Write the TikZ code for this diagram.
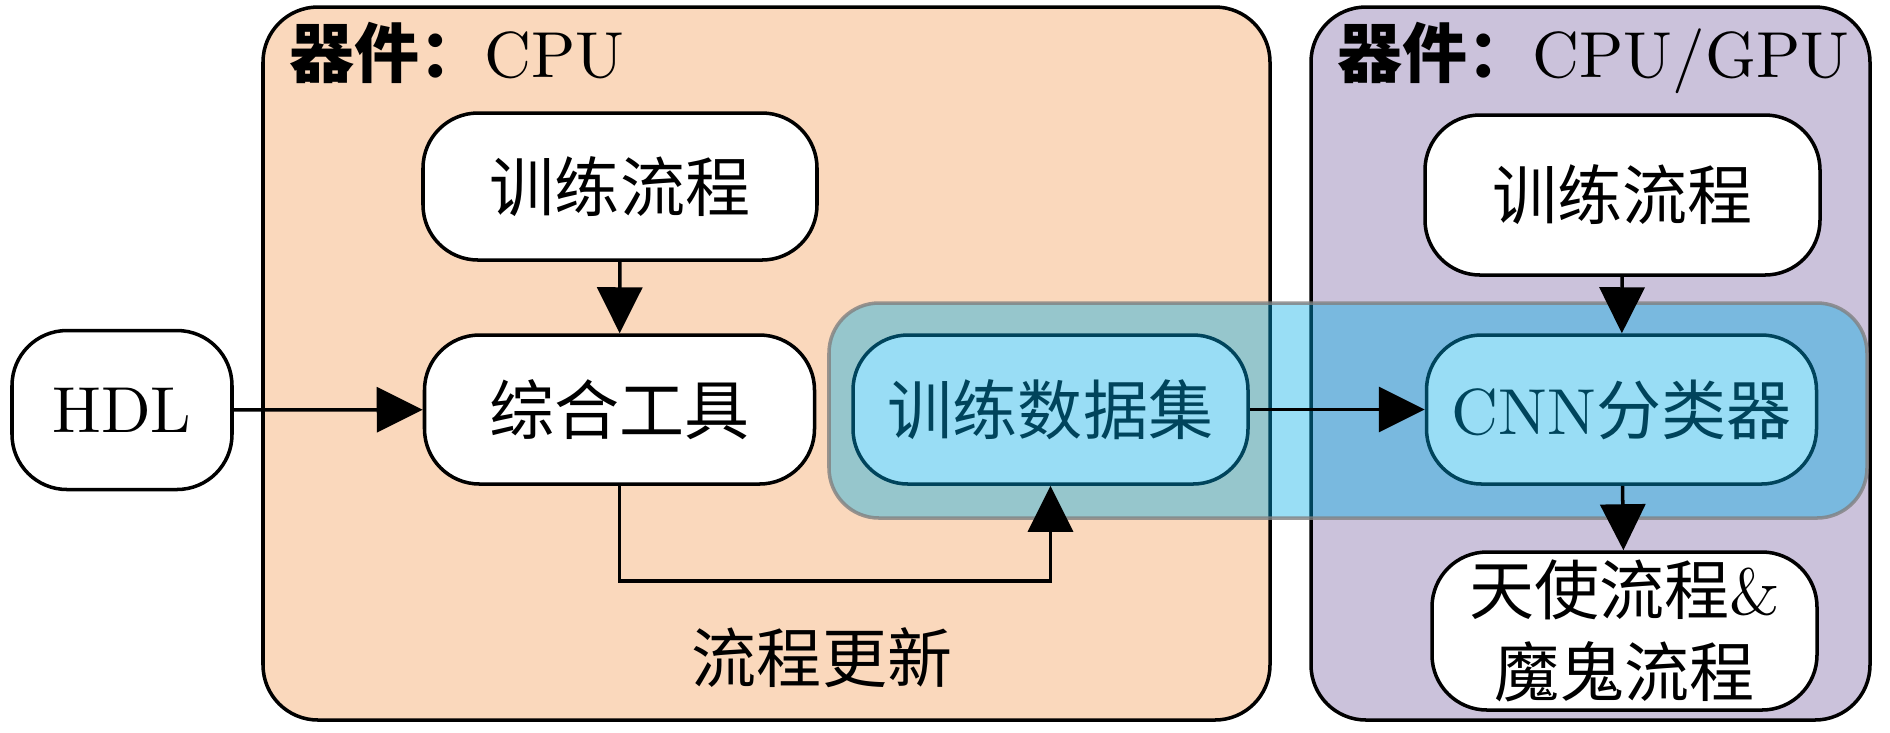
\documentclass[tikz,border=0pt]{standalone}
\usepackage{fontspec}
\setmainfont{lmroman10-regular.otf}
\newfontfamily\cjk{Noto Sans CJK SC}
\usepackage{tikz}
\usetikzlibrary{arrows.meta}

\definecolor{cpufill}{RGB}{250,216,188}
\definecolor{gpufill}{RGB}{203,194,219}
\definecolor{setfill}{RGB}{0,172,230}

\tikzset{
	devicebox/.style={draw, line width=1pt, rounded corners=0.55cm},
	stage/.style={draw, line width=1pt, fill=white, rounded corners=0.55cm,
		minimum width=3.9cm, minimum height=1.49cm, inner sep=2pt, align=center},
	flow/.style={line width=1pt, -{Triangle[length=0.46cm,width=0.45cm]}},
}

\begin{document}
\begin{tikzpicture}[font=\fontsize{18.5}{23.5}\selectfont]

	\useasboundingbox (0,0) rectangle (18.9,-7.32);

	% ---- device boxes

	\draw[devicebox, fill=cpufill] (2.63,-0.07) rectangle (12.70,-7.20);
	\draw[devicebox, fill=gpufill] (13.11,-0.07) rectangle (18.70,-7.20);

	\node[anchor=base west, inner sep=0] (cputitle) at (2.89,-0.77) {{\cjk\bfseries 器件：}CPU};
	\node[anchor=base west, inner sep=0] (gputitle) at (13.37,-0.77) {{\cjk\bfseries 器件：}CPU/GPU};

	\node (update) at (8.22,-6.575) {\cjk 流程更新};

	% ---- stages

	\node[stage, minimum width=2.2cm, minimum height=1.59cm] (hdl) at (1.22,-4.10) {HDL};

	\node[stage, minimum width=3.94cm, minimum height=1.47cm] (trainL) at (6.20,-1.865) {\cjk 训练流程};
	\node[stage] (tool) at (6.195,-4.095) {\cjk 综合工具};
	\node[stage, minimum width=3.95cm] (data) at (10.505,-4.095) {\cjk 训练数据集};

	\node[stage, minimum width=3.95cm, minimum height=1.60cm] (trainR) at (16.225,-1.95) {\cjk 训练流程};
	\node[stage] (cnn) at (16.215,-4.095) {CNN{\cjk 分类器}};
	\node[stage, minimum width=3.85cm, minimum height=1.58cm] (angel) at (16.245,-6.31)
		{{\cjk 天使流程}\&\\{\cjk 魔鬼流程}};

	% ---- data set overlay

	\draw[rounded corners=0.5cm, line width=1pt, fill=setfill, fill opacity=0.4,
		draw=gray, draw opacity=0.8] (8.29,-3.03) rectangle (18.67,-5.18);

	% ---- arrows

	\draw[flow] (hdl) -- (tool);
	\draw[flow] (trainL) -- (tool);
	\draw[flow] (tool.south) -- ++(0,-0.95) -| (data.south);
	\draw[flow] (data) -- (cnn);
	\draw[flow] (trainR) -- (cnn);
	\draw[flow] (cnn) -- (angel);

\end{tikzpicture}
\end{document}
